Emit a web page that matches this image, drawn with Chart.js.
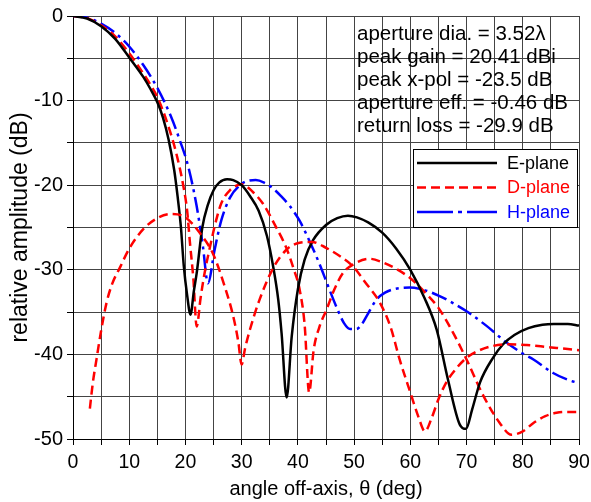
<!DOCTYPE html>
<html>
<head>
<meta charset="utf-8">
<script src="https://cdn.jsdelivr.net/npm/chart.js@4/dist/chart.umd.min.js"></script>
<style>
  html, body { margin: 0; padding: 0; background: #fff; }
  #wrap { width: 591px; height: 502px; }
</style>
</head>
<body>
<div id="wrap"><canvas id="chart"></canvas></div>
<script>
// E-plane co-pol
const ePlaneAngle = [0, 2.5, 5, 7.5, 10, 12.5, 13.75, 15, 16, 17, 18, 18.6, 19.2, 19.7, 20.3, 20.9, 21.5, 22, 23, 24, 25, 26, 27.4, 28.5, 30, 31.5, 33, 34.5, 35.6, 36.5, 37.1, 38, 38.9, 40, 41.2, 42.7, 45, 47, 48.9, 50.5, 52.5, 55, 57.5, 60, 62.5, 64.7, 66.7, 68.8, 69.9, 71, 72.4, 74.7, 76.5, 78.5, 81, 83.5, 85.5, 88, 90];
const ePlaneDb = [0, -0.3, -1.2, -2.7, -4.9, -7.2, -8.6, -10.2, -12.0, -14.6, -18.2, -21.3, -25, -29.5, -33, -35.3, -32.5, -30.4, -25, -22.3, -20.6, -19.7, -19.3, -19.4, -20, -21.3, -23, -26, -29.6, -33.5, -37.5, -45.1, -37.9, -32.3, -28.8, -26.5, -24.7, -23.9, -23.6, -23.8, -24.4, -25.6, -27.5, -30, -33.3, -37.1, -43, -48.3, -48.8, -46.5, -43.3, -40.4, -38.8, -37.7, -36.9, -36.5, -36.4, -36.4, -36.6];

// D-plane co-pol
const dPlaneAngle = [0, 2.5, 5, 7.5, 10, 12.5, 13.75, 15, 16.5, 18, 19, 19.6, 20.3, 20.8, 21.4, 22, 22.7, 23.4, 24.2, 24.9, 25.6, 26.4, 27.9, 30, 32, 33.8, 36, 38, 39.2, 40.3, 41.2, 42, 42.8, 43.8, 45.1, 46.5, 48, 50, 52.8, 55, 57.5, 60, 62.5, 65, 67.5, 70, 73, 75.9, 78, 80, 81.9, 84, 86, 88, 90];
const dPlaneDb = [0, -0.25, -1.1, -2.4, -4.4, -6.8, -8.1, -9.6, -12.1, -15.3, -18, -20, -23, -26.8, -31, -36.7, -33.3, -30.4, -27.8, -25.7, -23.8, -22.1, -20.6, -19.9, -20.8, -22.2, -24.8, -27.5, -29.8, -32.3, -36.5, -44.5, -39.5, -36.8, -34.7, -32.3, -30.4, -29.3, -28.7, -29.1, -29.9, -31, -32.6, -34.5, -37.3, -40.6, -44.9, -48.1, -49.5, -49.1, -48.1, -47.3, -46.9, -46.8, -46.8];

// D-plane cross-pol
const xPolAngle = [3, 3.5, 4.2, 5, 6, 7, 8.3, 10, 12.5, 15, 17.5, 20, 22.5, 24.9, 27, 28.5, 29.4, 30, 30.6, 31.5, 33.2, 35.6, 38, 40.3, 42.5, 45, 47.5, 49.8, 52, 54.6, 56.5, 58.1, 60, 61.5, 62.6, 63.8, 65, 66.4, 68, 70, 72, 74.7, 77.5, 80.7, 84, 87, 90];
const xPolDb = [-46.4, -43.5, -40.5, -37.2, -33.8, -31.6, -29.8, -27.5, -25.2, -23.9, -23.4, -23.8, -25.6, -28.1, -32, -35.5, -38.5, -41.2, -39.3, -37, -33.5, -29.8, -27.6, -26.8, -26.7, -27.4, -28.4, -29.6, -31.5, -33.9, -36.8, -40.6, -44.5, -47.5, -49.1, -47.5, -45.3, -43.3, -41.8, -40.4, -39.6, -39, -38.8, -38.9, -39.1, -39.3, -39.5];

// H-plane co-pol
const hPlaneAngle = [0, 2.5, 5, 7.5, 10, 12.5, 15, 17.5, 19, 20.5, 22, 23.1, 24, 25.2, 26.4, 27.9, 29.7, 31, 32.5, 34, 35.6, 37, 38.6, 40.3, 42, 43.9, 45.3, 46.8, 48.2, 49.3, 50.4, 51.3, 52.2, 54, 55.5, 57, 59.9, 62.5, 65.2, 67.5, 70, 73.5, 77.1, 80, 81.9, 85.4, 88, 90];
const hPlaneDb = [0, -0.2, -0.9, -2.0, -3.6, -5.8, -8.5, -12, -14.7, -17.8, -22.5, -27.2, -31.6, -27.6, -24.1, -21.5, -20, -19.5, -19.4, -19.7, -20.4, -21.3, -22.5, -24.2, -26.5, -29.4, -31.8, -34.3, -36.3, -37, -37, -36.5, -35.5, -33.5, -32.7, -32.3, -32.1, -32.4, -33.1, -33.9, -34.9, -36.6, -38.6, -39.9, -40.6, -42.2, -43, -43.4];

const infoLines = [
  'aperture dia. = 3.52\u03bb',
  'peak gain = 20.41 dBi',
  'peak x-pol = -23.5 dB',
  'aperture eff. = -0.46 dB',
  'return loss = -29.9 dB'
];

const FONT = '"Liberation Sans", Arial, sans-serif';

const toPoints = (xs, ys) => xs.map((x, i) => ({ x: x, y: ys[i] }));

// info text + legend drawn inside the plot area
const overlay = {
  id: 'overlay',
  afterDatasetsDraw(chart) {
    const ctx = chart.ctx;
    ctx.save();
    ctx.fillStyle = '#000';
    ctx.font = '20.5px ' + FONT;
    ctx.textBaseline = 'middle';
    infoLines.forEach((t, i) => ctx.fillText(t, 357, 34 + i * 23));

    // legend box
    const bx = 413, by = 149, bw = 164, bh = 78;
    ctx.fillStyle = '#fff';
    ctx.fillRect(bx, by, bw, bh);
    ctx.strokeStyle = '#000';
    ctx.lineWidth = 1;
    ctx.strokeRect(bx + 0.5, by + 0.5, bw, bh);
    const items = chart.data.datasets.filter(d => d.label);
    ctx.font = '18px ' + FONT;
    items.forEach((d, i) => {
      const y = by + 14 + i * 24.5;
      ctx.beginPath();
      ctx.setLineDash(d.legendDash || []);
      ctx.strokeStyle = d.borderColor;
      ctx.lineWidth = 2.5;
      ctx.moveTo(bx + 4, y);
      ctx.lineTo(bx + 84, y);
      ctx.stroke();
      ctx.setLineDash([]);
      ctx.fillStyle = d.borderColor;
      ctx.fillText(d.label, bx + 94, y + 1);
    });
    ctx.restore();
  }
};

const config = {
  type: 'line',
  data: {
    datasets: [
      {
        label: '',
        data: toPoints(xPolAngle, xPolDb),
        borderColor: '#ff0000',
        borderDash: [9, 5],
        borderWidth: 2.5
      },
      {
        label: 'E-plane',
        data: toPoints(ePlaneAngle, ePlaneDb),
        borderColor: '#000000',
        borderWidth: 2.5
      },
      {
        label: 'D-plane',
        data: toPoints(dPlaneAngle, dPlaneDb),
        borderColor: '#ff0000',
        borderDash: [9, 5],
        legendDash: [9, 5],
        borderWidth: 2.5
      },
      {
        label: 'H-plane',
        data: toPoints(hPlaneAngle, hPlaneDb),
        borderColor: '#0000ff',
        borderDash: [16, 5, 3, 5],
        legendDash: [36, 5, 4, 5],
        borderWidth: 2.5
      }
    ]
  },
  options: {
    responsive: false,
    animation: false,
    layout: { padding: { left: 0, right: 12, top: 16, bottom: 0 } },
    elements: {
      point: { radius: 0 },
      line: { cubicInterpolationMode: 'monotone', borderCapStyle: 'butt', borderJoinStyle: 'round' }
    },
    plugins: {
      legend: { display: false },
      tooltip: { enabled: false }
    },
    scales: {
      x: {
        type: 'linear',
        min: 0,
        max: 90,
        afterFit: s => { s.height = 63; s.paddingRight = 0; s.paddingLeft = 0; },
        ticks: {
          stepSize: 5,
          autoSkip: false,
          maxRotation: 0,
          padding: 6,
          color: '#000',
          font: { family: FONT, size: 19.5 },
          callback: v => (v % 10 === 0 ? v : '')
        },
        grid: { color: '#444', lineWidth: 1, tickLength: 6, tickColor: '#000' },
        border: { color: '#000', width: 1 },
        title: {
          display: true,
          text: 'angle off-axis, \u03b8 (deg)',
          color: '#000',
          font: { family: FONT, size: 20 },
          padding: { top: 0, bottom: 1 }
        }
      },
      y: {
        min: -50,
        max: 0,
        afterFit: s => { s.width = 73; s.paddingTop = 0; s.paddingBottom = 0; },
        ticks: {
          stepSize: 5,
          autoSkip: false,
          padding: 4,
          color: '#000',
          font: { family: FONT, size: 20 },
          callback: v => (v % 10 === 0 ? v : '')
        },
        grid: { color: '#444', lineWidth: 1, tickLength: 6, tickColor: '#000' },
        border: { color: '#000', width: 1 },
        title: {
          display: true,
          text: 'relative amplitude (dB)',
          color: '#000',
          font: { family: FONT, size: 23 },
          padding: { top: 7, bottom: 0 }
        }
      }
    }
  },
  plugins: [overlay]
};

const canvas = document.getElementById('chart');
canvas.width = 591;
canvas.height = 502;
new Chart(canvas, config);
</script>
</body>
</html>
